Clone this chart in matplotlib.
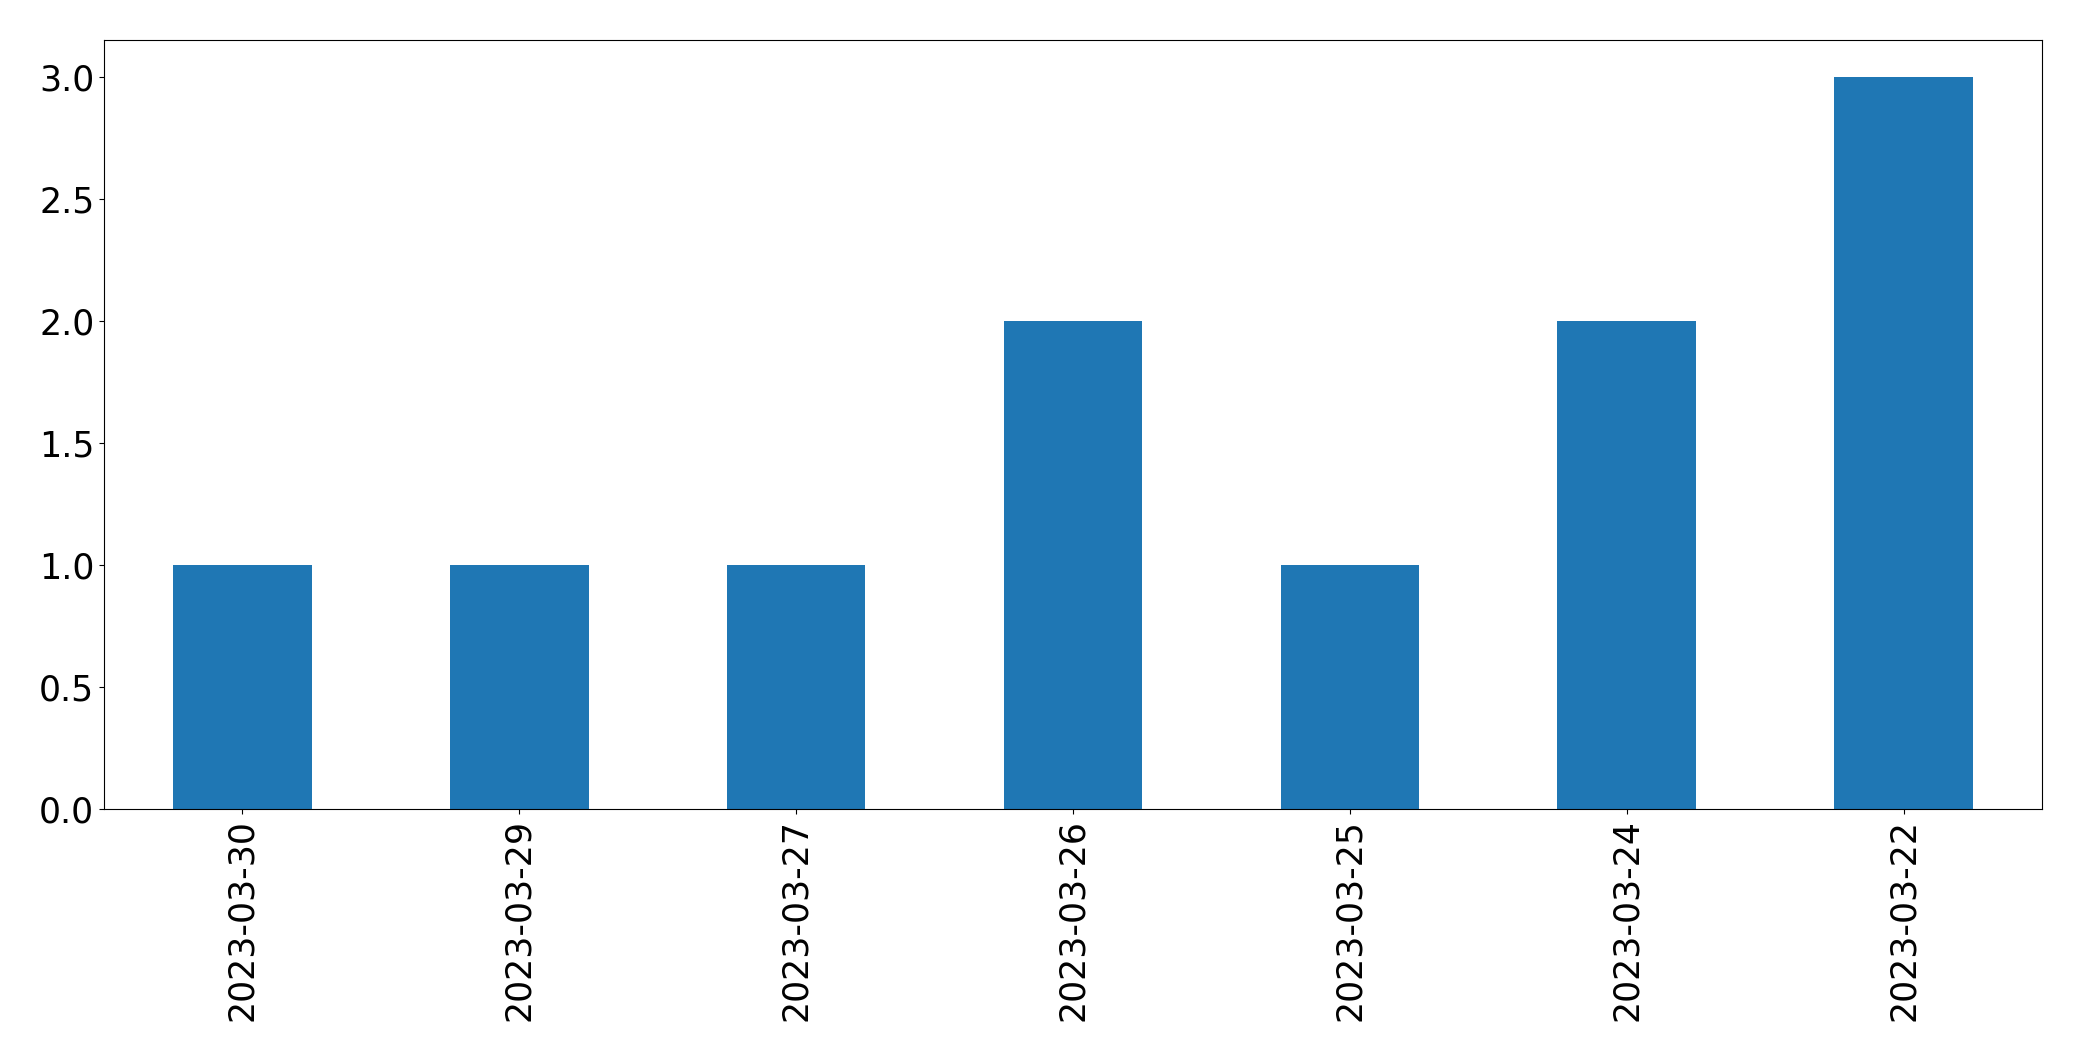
import matplotlib
matplotlib.use('Agg')
import matplotlib.pyplot as plt
import pandas as pd

# данные
dates = ['2023-03-30', '2023-03-29', '2023-03-27', '2023-03-26',
         '2023-03-25', '2023-03-24', '2023-03-22']
counts = [1, 1, 1, 2, 1, 2, 3]

s = pd.Series(counts, index=dates)

fig = plt.figure(figsize=(20.82, 10.61), dpi=100)
ax = fig.add_axes([104 / 2082, 1 - 809 / 1061, (2042 - 104) / 2082, (809 - 40) / 1061])
s.plot(kind='bar', ax=ax, color='#1f77b4', width=0.5)
ax.tick_params(axis='both', labelsize=25)

fig.savefig('out.png', dpi=100)
